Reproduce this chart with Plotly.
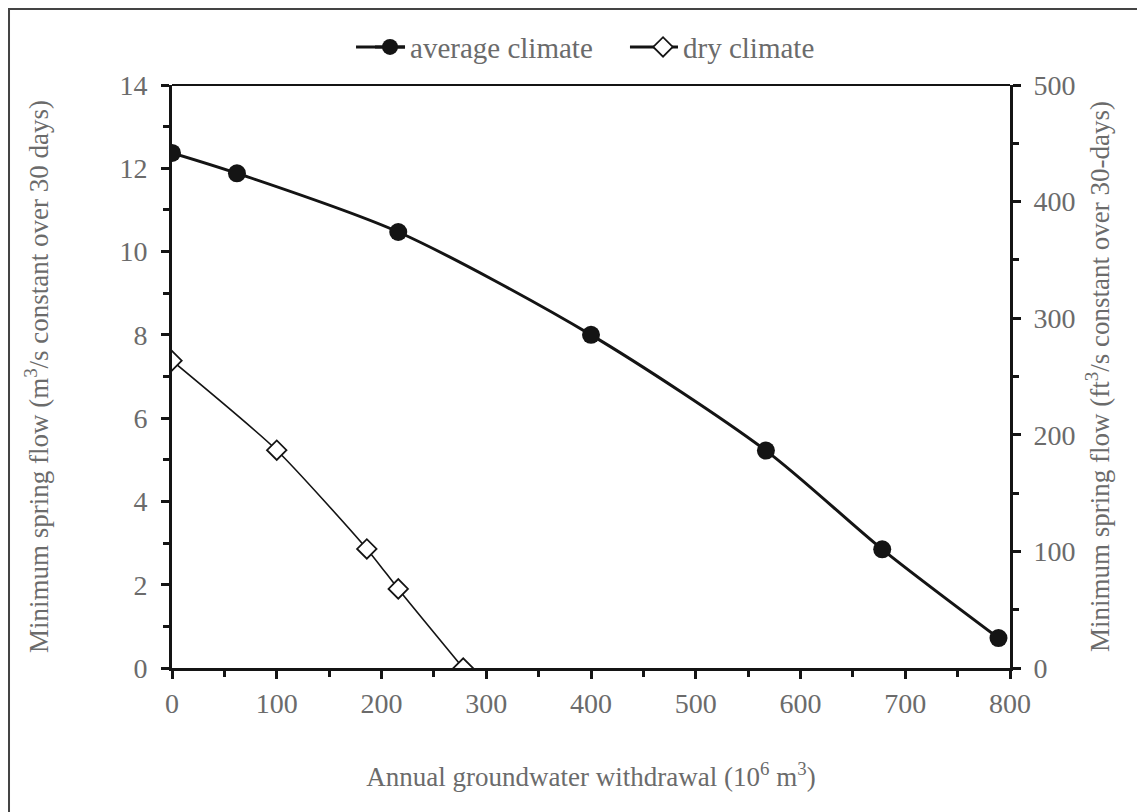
import plotly.graph_objects as go

avg_x = [0, 62, 216, 400, 567, 678, 789]
avg_y = [12.37, 11.88, 10.47, 8.0, 5.22, 2.85, 0.72]
dry_x = [0, 100, 186, 216, 278]
dry_y = [7.38, 5.23, 2.86, 1.9, 0.0]

x_ticks = [0, 100, 200, 300, 400, 500, 600, 700, 800]
y_ticks = [0, 2, 4, 6, 8, 10, 12, 14]
y2_ticks = [0, 100, 200, 300, 400, 500]

FONT = "Liberation Serif"
GRAY = "#6b6b6b"
INK = "#141414"

fig = go.Figure()
fig.add_trace(go.Scatter(
    x=avg_x, y=avg_y, name="average climate", mode="lines+markers",
    line=dict(color=INK, width=3, shape="spline", smoothing=0.8),
    marker=dict(symbol="circle", size=18, color=INK),
))
fig.add_trace(go.Scatter(
    x=dry_x, y=dry_y, name="dry climate", mode="lines+markers",
    line=dict(color=INK, width=1.6, shape="spline", smoothing=0.6),
    marker=dict(symbol="diamond", size=15, color="white", line=dict(color=INK, width=1.8)),
))
# invisible trace to anchor the secondary axis
fig.add_trace(go.Scatter(x=[0], y=[0], yaxis="y2", showlegend=False,
                         mode="markers", marker=dict(opacity=0), hoverinfo="skip"))

axis_common = dict(showgrid=False, zeroline=False, showline=True, linecolor=INK,
                   linewidth=3, ticks="outside", tickcolor=INK, tickwidth=2.5,
                   ticklen=8, tickfont=dict(family=FONT, size=28, color=GRAY))
TITLE_FONT = dict(family=FONT, size=27, color=GRAY)

fig.update_layout(
    width=1145, height=812,
    margin=dict(l=164, r=143, t=77, b=152),
    paper_bgcolor="white", plot_bgcolor="white",
    font=dict(family=FONT, color=GRAY),
    xaxis=dict(range=[0, 800], tickvals=x_ticks, **axis_common,
               minor=dict(dtick=50, ticks="outside", ticklen=6, tickcolor=INK, tickwidth=2.5),
               ticklabelstandoff=0,
               title=dict(text="Annual groundwater withdrawal (10<sup>6</sup> m<sup>3</sup>)",
                          font=TITLE_FONT, standoff=50)),
    yaxis=dict(range=[0, 14], tickvals=y_ticks, **axis_common,
               minor=dict(dtick=1, ticks="outside", ticklen=6, tickcolor=INK, tickwidth=2.5),
               ticklabelstandoff=8,
               title=dict(text="Minimum spring flow (m<sup>3</sup>/s constant over 30 days)",
                          font=TITLE_FONT, standoff=63)),
    yaxis2=dict(range=[0, 500], tickvals=y2_ticks, overlaying="y", side="right",
                anchor="x", **axis_common,
                minor=dict(dtick=50, ticks="outside", ticklen=6, tickcolor=INK, tickwidth=2.5),
                ticklabelstandoff=7,
                title=dict(text="Minimum spring flow (ft<sup>3</sup>/s constant over 30-days)",
                           font=TITLE_FONT, standoff=16)),
    legend=dict(orientation="h", x=0.2363, xanchor="left", y=1.065, yanchor="middle",
                font=dict(family=FONT, size=29, color=GRAY), bgcolor="rgba(0,0,0,0)",
                itemwidth=30, entrywidth=228, entrywidthmode="pixels"),
    showlegend=True,
)

# top border of the plot area
fig.add_shape(type="line", xref="paper", yref="paper", x0=0, x1=1, y0=1, y1=1,
              line=dict(color=INK, width=2))
# longer legend glyph lines
for x0, x1 in [(0.2196, 0.2780), (0.5465, 0.6038)]:
    fig.add_shape(type="line", xref="paper", yref="paper", x0=x0, x1=x1,
                  y0=1.0652, y1=1.0652, line=dict(color=INK, width=3), layer="below")
# outer frame
fig.add_shape(type="rect", xref="paper", yref="paper",
              x0=-0.1945, x1=1.5, y0=1.1304, y1=-0.5,
              line=dict(color="#444444", width=2), layer="below")

fig.write_html("out.html")
